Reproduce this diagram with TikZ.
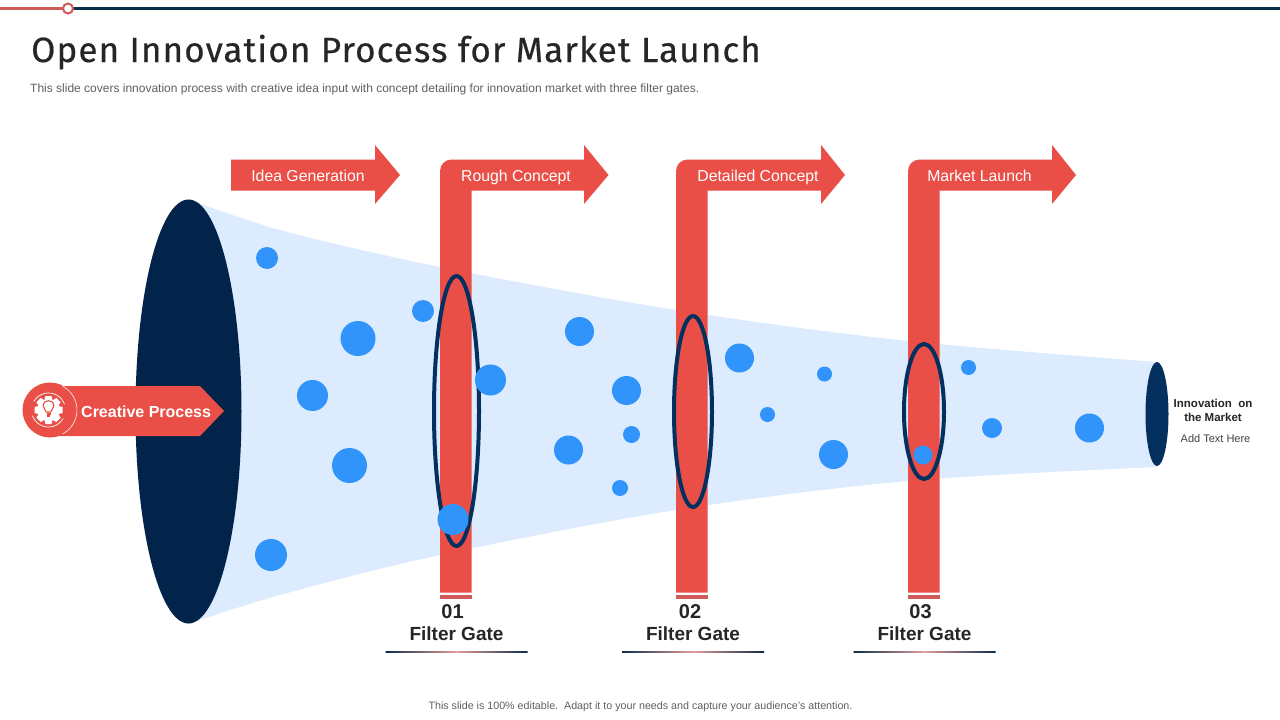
\documentclass[tikz,border=0pt]{standalone}
\usepackage{fontspec}
\setmainfont{Liberation Sans}
\newfontfamily\titlefont[LetterSpace=3.2,FakeBold=0.45]{Fira Sans}
\definecolor{brandred}{HTML}{E94F47}
\definecolor{stripred}{HTML}{CF5A58}
\definecolor{navy}{HTML}{02234A}
\definecolor{navyb}{HTML}{04305F}
\definecolor{topnavy}{HTML}{0B2E48}
\definecolor{funnel}{HTML}{DCEBFD}
\definecolor{dot}{HTML}{3194FB}
\definecolor{inktext}{HTML}{262626}
\definecolor{graytext}{HTML}{606060}
\tikzset{
  redshape/.style={fill=brandred,draw=none},
  dotmark/.style={fill=dot,draw=none},
  gatering/.style={draw=navyb,line width=4pt,fill=none},
  arrowlabel/.style={anchor=base,text=white,font=\fontsize{15.8}{18}\selectfont,inner sep=0pt},
  gatenum/.style={text=inktext,font=\bfseries\fontsize{20}{22}\selectfont,inner sep=0pt},
  gatename/.style={text=inktext,font=\bfseries\fontsize{19}{21}\selectfont,inner sep=0pt},
}
\begin{document}
\begin{tikzpicture}[x=1pt,y=-1pt]
\useasboundingbox (0,0) rectangle (1280,720);
\fill[white] (0,0) rectangle (1280,720);
% top rule
\fill[topnavy] (68,6.5) rectangle (1280,9.5);
\fill[stripred] (0,6.5) rectangle (68,9.5);
\draw[stripred,fill=white,line width=2pt] (68,8.5) circle (5);
% title
\node[anchor=base west,inner sep=0pt,text=inktext,font=\titlefont\fontsize{35}{40}\selectfont] (title) at (31,62) {Open Innovation Process for Market Launch};
\node[anchor=base west,inner sep=0pt,text=graytext,font=\fontsize{12}{14}\selectfont] (sub) at (30,92.5) {This slide covers innovation process with creative idea input with concept detailing for innovation market with three filter gates.};
% funnel
\fill[funnel] plot[smooth,tension=0.55] coordinates {(188,199) (280,230) (440,267) (676,310) (908,341) (1157,362)}
 -- plot[smooth,tension=0.55] coordinates {(1157,467) (908,481) (676,510) (440,555) (280,595) (188,624)} -- cycle;
\fill[navy] (188.5,411.5) ellipse (53 and 212);
\fill[navyb] (1157,414) ellipse (11.5 and 52);
% top arrows
\fill[redshape] (231,159.5) -- (375,159.5) -- (375,145) -- (400,175) -- (375,204) -- (375,190.5) -- (231,190.5) -- cycle;
\foreach \xl/\xh/\xt in {440/584/608.5,676/821/845,908/1052/1076}{
  \pgfmathsetmacro{\xr}{\xl+31.5}
  \fill[redshape] (\xl,592.5) -- (\xl,171) arc[start angle=180,end angle=270,radius=11.5] -- (\xh,159.5) -- (\xh,145) -- (\xt,175) -- (\xh,204) -- (\xh,190.5) -- (\xr,190.5) -- (\xr,592.5) -- cycle;
  \fill[stripred] (\xl,595) rectangle (\xr,599);
}
\node[arrowlabel] (l1) at (308,181) {Idea Generation};
\node[arrowlabel] (l2) at (516,181) {Rough Concept};
\node[arrowlabel] (l3) at (758,181) {Detailed Concept};
\node[arrowlabel] (l4) at (979.5,181) {Market Launch};
% gate rings
\draw[gatering] (456.5,411) ellipse (22.5 and 135);
\draw[gatering] (693,411.5) ellipse (19 and 95.5);
\draw[gatering] (924,411.5) ellipse (20 and 67.5);
% dots
\foreach \x/\y/\r in {267/258/11,423/311/11,358/338.5/17.5,490.5/380/15.5,579.5/331.5/14.5,312.5/395.5/15.5,626.5/390.5/14.5,631.5/434.5/8.5,568.5/450/14.5,620/488/8,349.5/465.5/17.5,453/519.5/15.5,271/555/16,739.5/358/14.5,824.5/374/7.5,767.5/414.5/7.5,833.5/454.5/14.5,923/455/9.5,968.5/367.5/7.5,992/428/10,1089.5/428/14.5}{
  \fill[dotmark] (\x,\y) circle (\r);
}
% creative process
\fill[redshape] (50,386) -- (200,386) -- (224,411) -- (200,436) -- (50,436) -- cycle;
\fill[redshape] (50,410) circle (27.5);
\draw[white!85!brandred,line width=0.7pt] (50,410) ++(-62:27) arc[start angle=-62,end angle=62,radius=27];
% gear icon
\foreach \a in {0,45,...,315}{
  \fill[white,shift={(48.5,410)},rotate=\a] (-3,-14) -- (3,-14) -- (4.5,-8) -- (-4.5,-8) -- cycle;
}
\fill[white] (48.5,410) circle (11);
\draw[white,line width=0.7pt] (48.5,410) ++(-150:17) arc[start angle=-150,end angle=-20,radius=17];
\draw[white,line width=0.7pt] (48.5,410) ++(30:17) arc[start angle=30,end angle=160,radius=17];
\draw[brandred,line width=1.1pt] (46.3,412) .. controls (46,409.5) and (43.2,409) .. (43.2,405.8) .. controls (43.2,399) and (53.8,399) .. (53.8,405.8) .. controls (53.8,409) and (51,409.5) .. (50.7,412) -- cycle;
\draw[brandred,line width=1.1pt] (46.5,414) -- (50.5,414);
\draw[brandred,line width=1.1pt] (47.2,416) -- (49.8,416);
\node[anchor=base west,inner sep=0pt,text=white,font=\bfseries\fontsize{16}{18}\selectfont] (creative) at (81,417) {Creative Process};
% gate labels
\foreach \n/\x/\t/\nx in {a/456.5/01/452.5,b/693/02/690,c/924.5/03/920.5}{
  \node[gatenum] (num\n) at (\nx,611.5) {\t};
  \node[gatename] (name\n) at (\x,634) {Filter Gate};
  \pgfmathsetmacro{\ul}{\x-71}
  \pgfmathsetmacro{\um}{\x}
  \pgfmathsetmacro{\ur}{\x+71}
  \shade[left color=topnavy,right color=stripred!60!white] (\ul,651.2) rectangle (\um,652);
  \shade[left color=stripred!60!white,right color=topnavy] (\um,651.2) rectangle (\ur,652);
}
% right text
\node[align=center,inner sep=0pt,text=inktext,font=\bfseries\fontsize{11.5}{14}\selectfont] (market) at (1213,410) {Innovation\ \ on\\the Market};
\node[inner sep=0pt,text=graytext!70!black,font=\fontsize{11}{13}\selectfont] (addtext) at (1215.5,438.5) {Add Text Here};
% footer
\node[anchor=base,inner sep=0pt,text=graytext,font=\fontsize{10.7}{12}\selectfont] (foot) at (640.5,709.5) {This slide is 100\% editable.\ \ Adapt it to your needs and capture your audience's attention.};
\end{tikzpicture}
\end{document}
